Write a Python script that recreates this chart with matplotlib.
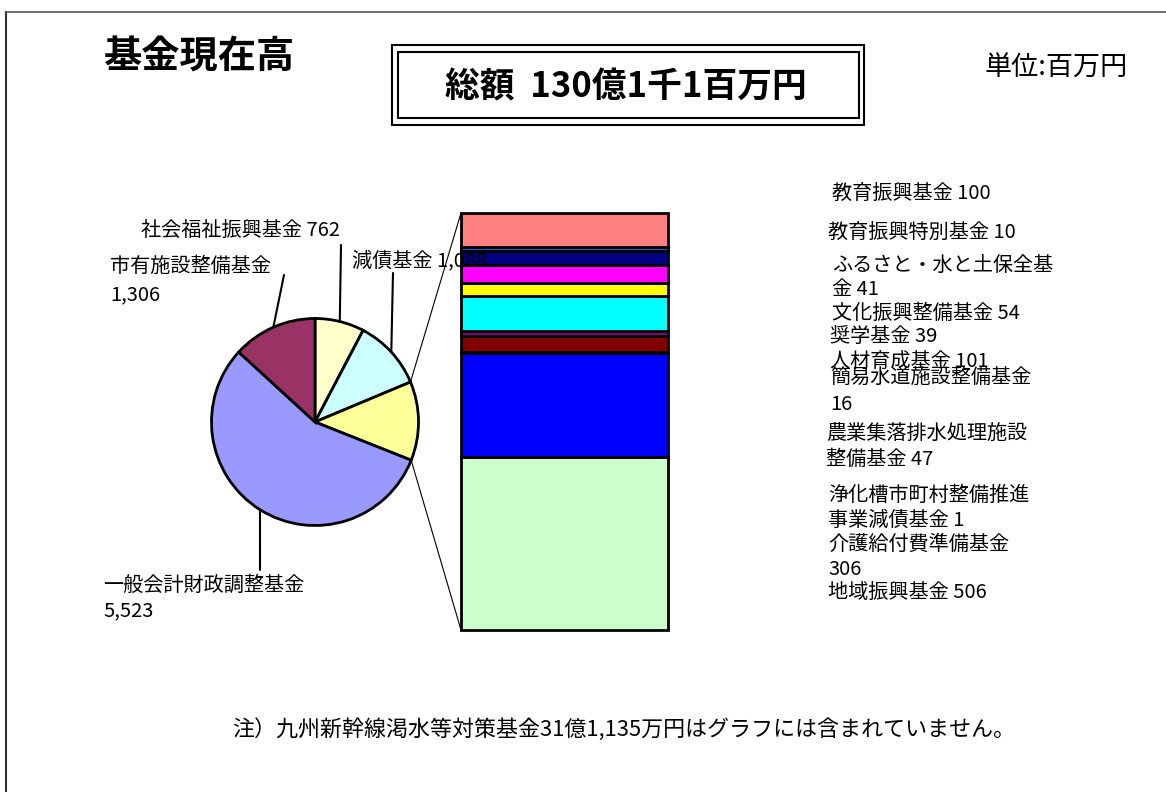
import numpy as np
import matplotlib.pyplot as plt
from matplotlib.patches import Rectangle, ConnectionPatch
from matplotlib.lines import Line2D

plt.rcParams['font.family'] = ['Noto Sans CJK JP', 'DejaVu Sans']

# 円グラフ（時計回り、12時の位置から）
pie_names = ['社会福祉振興基金', '減債基金', 'その他', '一般会計財政調整基金', '市有施設整備基金']
pie_values_main = [762, 1088, 5523, 1306]
pie_colors = ['#FFFFCC', '#CCFFFF', '#FFFF99', '#9999FF', '#993366']

# 積み上げ棒（下から上へ）
bar_names = ['地域振興基金', '介護給付費準備基金', '浄化槽市町村整備推進\n事業減債基金',
             '農業集落排水処理施設\n整備基金', '簡易水道施設整備基金', '人材育成基金',
             '奨学基金', '文化振興整備基金', 'ふるさと・水と土保全基\n金',
             '教育振興特別基金', '教育振興基金']
bar_values = [506, 306, 1, 47, 16, 101, 39, 54, 41, 10, 100]
bar_seps = [' ', '\n', ' ', ' ', '\n', ' ', ' ', ' ', ' ', ' ', ' ']
bar_colors = ['#CCFFCC', '#0000FF', '#00CCFF', '#800000', '#800080', '#00FFFF',
              '#FFFF00', '#FF00FF', '#000080', '#0066CC', '#FF8080']

other_total = sum(bar_values)
pie_values = [pie_values_main[0], pie_values_main[1], other_total,
              pie_values_main[2], pie_values_main[3]]

W, H = 1166, 792
fig = plt.figure(figsize=(W / 100, H / 100), dpi=100)


def fx(x):
    return x / W


def fy(y):
    return 1 - y / H


# 枠線
fig.add_artist(Line2D([fx(6), fx(6)], [fy(12), 0], color='#333333', lw=1.5))
fig.add_artist(Line2D([fx(6), 1], [fy(12), fy(12)], color='#555555', lw=1.2))

# 円グラフ
cx, cy, r = 315, 422, 103.5
ax_pie = fig.add_axes([fx(cx - r), fy(cy + r), 2 * r / W, 2 * r / H])
wedges, _ = ax_pie.pie(pie_values, colors=pie_colors, startangle=90, counterclock=False,
                       wedgeprops=dict(edgecolor='black', linewidth=2))
for w in wedges:
    w.set_clip_on(False)
ax_pie.set_xlim(-1, 1)
ax_pie.set_ylim(-1, 1)
ax_pie.axis('off')

# 引き出し線の端（ピクセル）とラベル
leader_ends = {0: (341, 245), 1: (393, 273), 3: (260, 570), 4: (284, 275)}
for i, end in leader_ends.items():
    w = wedges[i]
    t = np.deg2rad((w.theta1 + w.theta2) / 2)
    ax_pie.annotate('', xy=(np.cos(t), np.sin(t)), xycoords='data',
                    xytext=(end[0], H - end[1]), textcoords='figure pixels',
                    arrowprops=dict(arrowstyle='-', lw=1.5, color='black',
                                    shrinkA=0, shrinkB=0))

fs = 14.5
fig.text(fx(141), fy(231), f'{pie_names[0]} {pie_values[0]:,}', fontsize=fs, va='center')
fig.text(fx(352), fy(261), f'{pie_names[1]} {pie_values[1]:,}', fontsize=fs, va='center', zorder=10)
fig.text(fx(110), fy(281), f'{pie_names[4]}\n{pie_values[4]:,}', fontsize=fs, va='center',
         linespacing=1.45)
fig.text(fx(103), fy(598), f'{pie_names[3]}\n{pie_values[3]:,}', fontsize=fs, va='center',
         linespacing=1.3)

# 積み上げ棒
ax_bar = fig.add_axes([fx(461), fy(630), 207 / W, 417 / H])
bottom = 0
for v, c in zip(bar_values, bar_colors):
    ax_bar.bar(0, v, bottom=bottom, width=1, color=c, edgecolor='black', linewidth=2,
               clip_on=False)
    bottom += v
ax_bar.set_xlim(-0.5, 0.5)
ax_bar.set_ylim(0, other_total)
ax_bar.axis('off')

# 円と棒をつなぐ線
w = wedges[2]
for ang, yb in [(w.theta2, other_total), (w.theta1, 0)]:
    t = np.deg2rad(ang)
    con = ConnectionPatch(xyA=(np.cos(t), np.sin(t)), coordsA=ax_pie.transData,
                          xyB=(-0.5, yb), coordsB=ax_bar.transData,
                          color='black', lw=0.8)
    fig.add_artist(con)

# 棒ラベル
label_pos = [(828, 593), (828, 557), (828, 507.5), (826, 446.5), (830, 391),
             (830, 361), (830, 337), (832, 313), (832, 277.5), (828, 232), (832, 193)]
label_ls = [1.3, 1.3, 1.25, 1.3, 1.35, 1.3, 1.3, 1.3, 1.15, 1.3, 1.3]
for name, v, sep, (px, py), ls in zip(bar_names, bar_values, bar_seps, label_pos, label_ls):
    fig.text(fx(px), fy(py), f'{name}{sep}{v:,}', fontsize=fs, va='center', linespacing=ls)

# タイトル類
fig.text(fx(103), fy(57), '基金現在高', fontsize=27.5, fontweight='bold', va='center')
fig.add_artist(Rectangle((fx(392), fy(125)), (864 - 392) / W, (125 - 45) / H,
                         fill=False, lw=1.5, edgecolor='black'))
fig.add_artist(Rectangle((fx(398), fy(118)), (859 - 398) / W, (118 - 52) / H,
                         fill=False, lw=1.5, edgecolor='black'))
fig.text(fx(626), fy(87), '総額  130億1千1百万円', fontsize=25, fontweight='bold',
         ha='center', va='center')
fig.text(fx(985), fy(68), '単位:百万円', fontsize=19.5, va='center')
fig.text(fx(232), fy(730), '注）九州新幹線渇水等対策基金31億1,135万円はグラフには含まれていません。',
         fontsize=15.8, va='center')

fig.savefig('out.png', dpi=100, facecolor='white')
